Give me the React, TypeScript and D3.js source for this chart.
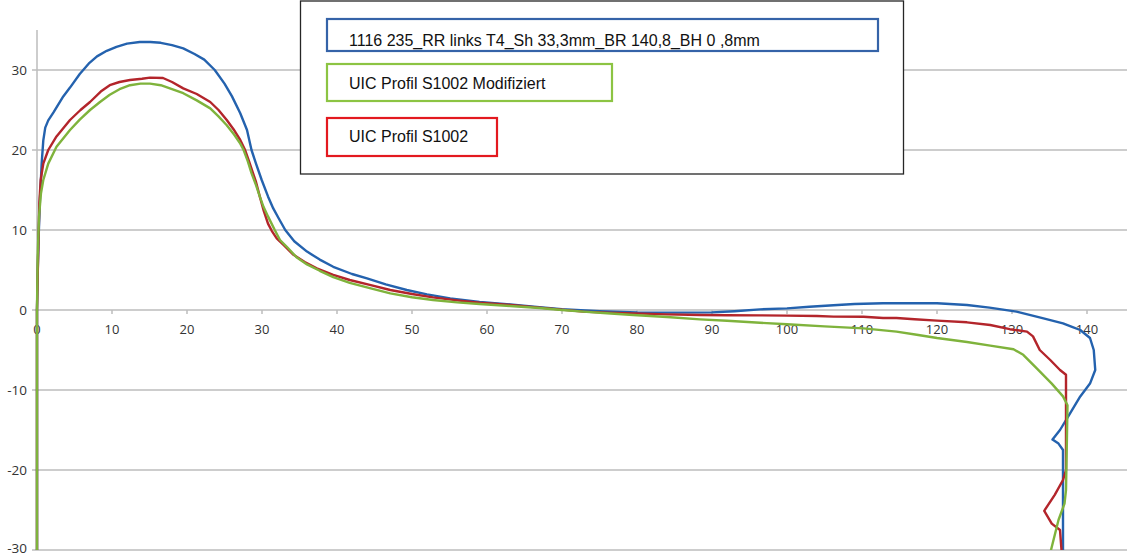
import React from "react";
import * as d3 from "d3";

// Wheel profile comparison: lateral position (mm) vs. height (mm)
const xTicks = [0, 10, 20, 30, 40, 50, 60, 70, 80, 90, 100, 110, 120, 130, 140];
const yTicks = [-30, -20, -10, 0, 10, 20, 30];

const seriesNames = [
  "1116 235_RR links T4_Sh 33,3mm_BR 140,8_BH 0 ,8mm",
  "UIC Profil S1002 Modifiziert",
  "UIC Profil S1002",
];

const measuredProfile: [number, number][] = [
  [0, -30], [0, 0], [0.1, 5], [0.25, 10], [0.4, 14], [0.5, 15.8], [0.62, 18.3], [0.84, 21.2],
  [1.1, 22.8], [1.5, 23.7], [2.2, 24.7], [3.5, 26.7], [4.4, 27.8], [5.7, 29.5], [7.0, 30.9],
  [8.0, 31.7], [9.3, 32.4], [10.6, 32.9], [12.0, 33.3], [13.7, 33.5], [15.1, 33.5], [16.5, 33.4],
  [18.0, 33.1], [19.5, 32.7], [21.0, 32.0], [22.3, 31.3], [23.7, 30.0], [25.0, 28.3], [26.0, 26.7],
  [27.1, 24.6], [28.0, 22.5], [28.6, 20.0], [29.2, 18.3], [29.96, 16.25], [30.8, 14.2], [31.5, 12.7],
  [32.2, 11.5], [33.1, 10.0], [34.3, 8.6], [36.0, 7.3], [37.7, 6.3], [39.5, 5.4], [42, 4.5],
  [44, 3.96], [46.5, 3.2], [49.3, 2.5], [52, 1.95], [55.1, 1.46], [59, 1.0], [63.1, 0.7],
  [67, 0.35], [70, 0.1], [75, -0.15], [80, -0.3], [85, -0.33], [90, -0.3], [93, -0.15],
  [96.4, 0.08], [100, 0.2], [103, 0.4], [106.2, 0.6], [109, 0.75], [112.8, 0.85], [116, 0.85],
  [120, 0.85], [124, 0.63], [127, 0.3], [130.6, -0.2], [134.2, -1.04], [136.8, -1.67],
  [138, -2.1], [139.1, -2.5], [140.4, -3.5], [140.9, -5], [141.1, -7.5], [140.4, -9.2],
  [139.1, -10.8], [137.5, -13.3], [136.4, -15], [135.4, -16.2], [136.2, -16.7], [136.8, -17.5],
  [136.8, -30],
];

const s1002Modified: [number, number][] = [
  [0, -30], [0, 0], [0.09, 6.7], [0.27, 11.7], [0.53, 14.6], [0.84, 16.25], [1.5, 18.3],
  [2.6, 20.4], [4.4, 22.5], [5.7, 23.8], [7.07, 25.0], [8.4, 26.0], [9.7, 26.9], [11, 27.6],
  [12.4, 28.1], [13.8, 28.3], [15.07, 28.3], [16.5, 28.1], [18, 27.6], [19.5, 27.1], [21.3, 26.2],
  [23.1, 25.2], [24.2, 24.2], [25.3, 23.1], [26.3, 21.9], [27.1, 20.8], [27.5, 20.1], [28.1, 18.6],
  [28.6, 17.1], [29.2, 15.6], [29.7, 14.2], [30.2, 12.9], [30.8, 11.7], [31.7, 10], [32.4, 8.75],
  [33.3, 7.9], [34.6, 6.6], [36, 5.7], [37.7, 4.9], [39.5, 4.1], [41.7, 3.4], [44.5, 2.7],
  [47.1, 2.08], [50, 1.6], [52.8, 1.25], [56, 0.95], [59, 0.75], [63.1, 0.5], [67, 0.25],
  [70, 0.0], [72.8, -0.2], [76, -0.4], [79.5, -0.63], [84, -0.88], [88.4, -1.17], [92, -1.35],
  [96.4, -1.6], [100, -1.79], [105, -2.05], [110.2, -2.3], [114.6, -2.7], [117.3, -3.1],
  [120, -3.5], [124, -4.0], [127.1, -4.45], [130.2, -4.9], [131.5, -5.6], [133.3, -7.3],
  [135.3, -9.2], [136.8, -10.8], [137.4, -11.9], [137.2, -22.5], [137.0, -24.2], [136.2, -26.25],
  [135.2, -30],
];

const s1002: [number, number][] = [
  [0, -30], [0, 0], [0.09, 4.2], [0.18, 7.9], [0.31, 13.3], [0.49, 16.25], [0.84, 18.3],
  [1.5, 20], [2.6, 21.7], [4.4, 23.75], [5.8, 25], [7.07, 26.0], [8.5, 27.3], [9.7, 28.1],
  [11, 28.5], [12.4, 28.75], [14, 28.9], [15.07, 29.05], [16.8, 29.0], [18, 28.5], [19.5, 27.7],
  [21.3, 27.0], [23.1, 26.0], [24.2, 25], [25.3, 23.75], [26.2, 22.6], [27.1, 21.25], [27.7, 20.1],
  [28.3, 18.5], [28.8, 17.1], [29.2, 16.0], [29.7, 14.2], [30.2, 12.5], [30.8, 10.8], [31.3, 9.9],
  [31.96, 8.96], [32.8, 8.2], [34.2, 6.9], [35.7, 6.0], [37.3, 5.2], [39.5, 4.4], [41.7, 3.75],
  [44.5, 3.1], [47.1, 2.5], [50, 2.0], [52.8, 1.58], [56, 1.2], [59, 0.9], [63.1, 0.63],
  [67, 0.3], [70, 0.05], [72.8, -0.2], [76, -0.33], [79.5, -0.42], [84, -0.55], [88.4, -0.63],
  [92, -0.65], [96.4, -0.67], [100, -0.7], [104, -0.75], [106.2, -0.83], [110.2, -0.85],
  [112.8, -1.0], [114.6, -1.0], [117, -1.15], [120, -1.33], [124, -1.54], [127.1, -1.875],
  [129.7, -2.4], [132, -2.7], [132.8, -3.3], [133.7, -5], [135.1, -6.25], [136.4, -7.5],
  [137.2, -8.1], [137.2, -20], [136.8, -21.25], [135.7, -23.1], [134.3, -25.1], [135.3, -26.7],
  [136.4, -27.5], [136.6, -30],
];

const W = 1128;
const H = 557;
const originX = 37;
const plotRight = 1127;
const plotTop = 30;
const plotBottom = 550;

const x = d3.scaleLinear().domain([0, (plotRight - originX) / 7.5]).range([originX, plotRight]);
const y = d3.scaleLinear().domain([-30, 35]).range([plotBottom, plotTop]);

const line = d3
  .line<[number, number]>()
  .x((d) => x(d[0]))
  .y((d) => y(d[1]));

const gridColor = "#bdbdbd";
const tickFont = "'Open Sans', 'Liberation Sans', sans-serif";
const legendFont = "'Liberation Sans', Arial, sans-serif";

const series = [
  { data: measuredProfile, color: "#2462ae" },
  { data: s1002, color: "#b3252b" },
  { data: s1002Modified, color: "#7fb33c" },
];

const legendItems = [
  { label: seriesNames[0], box: [327, 19, 878, 51], color: "#3563a8", baseline: 46 },
  { label: seriesNames[1], box: [327, 64, 612, 101], color: "#8cc443", baseline: 89 },
  { label: seriesNames[2], box: [327, 118, 497, 156], color: "#e3191f", baseline: 142 },
];

export default function App() {
  return (
    <svg
      width={W}
      height={H}
      style={{ position: "absolute", left: 0, top: 0, background: "#fff" }}
    >
      <defs>
        <clipPath id="plot-clip">
          <rect x={0} y={plotTop - 10} width={W} height={plotBottom - plotTop + 10} />
        </clipPath>
      </defs>

      {/* horizontal gridlines, extending left past the axis as tick marks */}
      {yTicks.map((t) => (
        <line
          key={`g${t}`}
          x1={originX - 5}
          x2={plotRight}
          y1={y(t)}
          y2={y(t)}
          stroke={gridColor}
          strokeWidth={1.5}
        />
      ))}

      {/* vertical axis */}
      <line x1={originX} x2={originX} y1={plotTop} y2={plotBottom} stroke={gridColor} strokeWidth={1.5} />

      {/* x tick marks on the zero line */}
      {xTicks.map((t) => (
        <line
          key={`xt${t}`}
          x1={x(t)}
          x2={x(t)}
          y1={y(0)}
          y2={y(0) + 4}
          stroke={gridColor}
          strokeWidth={1.5}
        />
      ))}

      {/* y tick labels; the lowest one is kept inside the frame */}
      {yTicks.map((t) => (
        <text
          key={`yl${t}`}
          x={27}
          y={Math.min(y(t), H - 9)}
          dy="0.35em"
          textAnchor="end"
          fontFamily={tickFont}
          fontSize={13.5}
          fill="#333"
        >
          {t}
        </text>
      ))}

      {/* x tick labels */}
      {xTicks.map((t) => (
        <text
          key={`xl${t}`}
          x={x(t)}
          y={y(0) + 19}
          dy="0.35em"
          textAnchor="middle"
          fontFamily={tickFont}
          fontSize={13}
          fill="#333"
        >
          {t}
        </text>
      ))}

      {/* profile curves */}
      <g clipPath="url(#plot-clip)">
        {series.map((s, i) => (
          <path
            key={i}
            d={line(s.data) ?? ""}
            fill="none"
            stroke={s.color}
            strokeWidth={2.4}
            strokeLinejoin="round"
            strokeLinecap="round"
          />
        ))}
      </g>

      {/* legend */}
      <rect x={300.5} y={1} width={603} height={173} fill="#fff" stroke="#262626" strokeWidth={1.3} />
      {legendItems.map((it, i) => (
        <g key={`lg${i}`}>
          <rect
            x={it.box[0]}
            y={it.box[1]}
            width={it.box[2] - it.box[0]}
            height={it.box[3] - it.box[1]}
            fill="#fff"
            stroke={it.color}
            strokeWidth={2.2}
          />
          <text x={349} y={it.baseline} fontFamily={legendFont} fontSize={16} fill="#111">
            {it.label}
          </text>
        </g>
      ))}
    </svg>
  );
}
